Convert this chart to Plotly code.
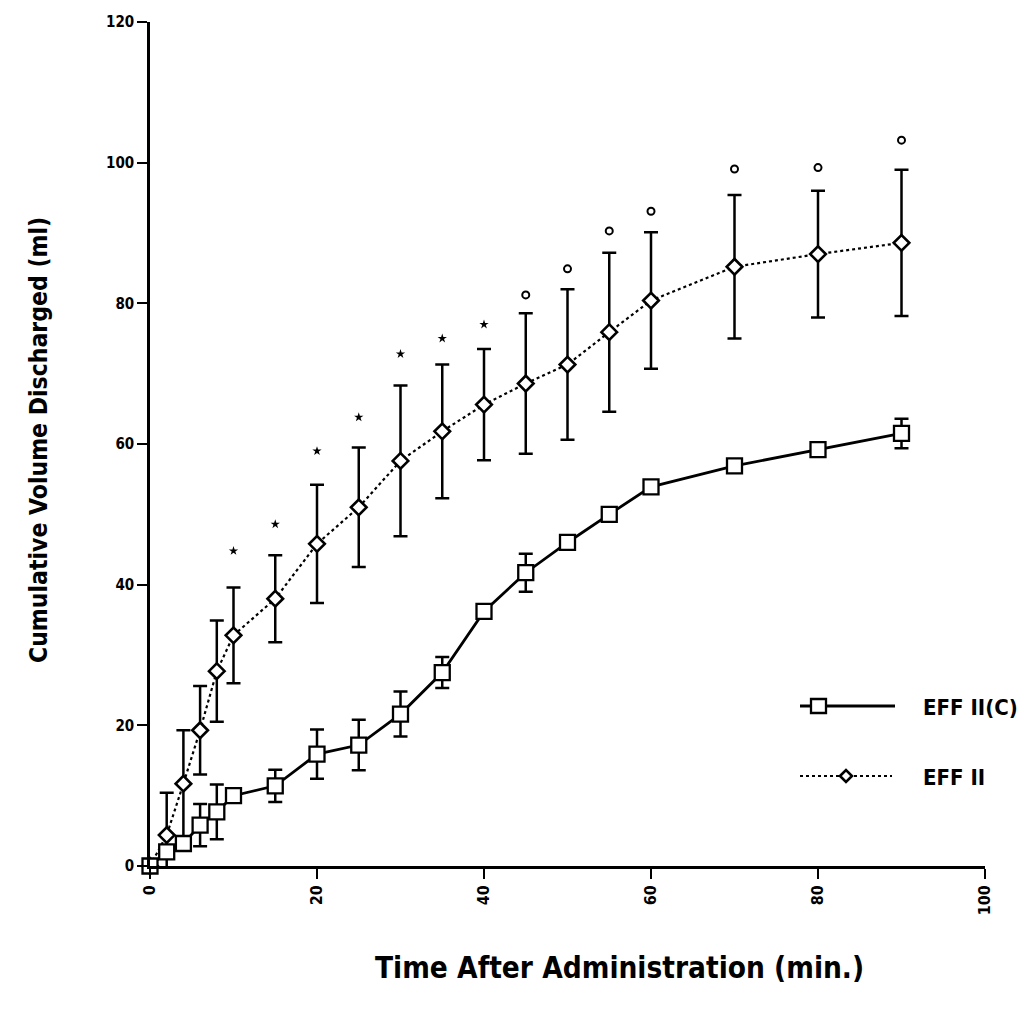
import plotly.graph_objects as go

# ---- data ----
times = [0, 2, 4, 6, 8, 10, 15, 20, 25, 30, 35, 40, 45, 50, 55, 60, 70, 80, 90]

effc_mean = [0, 2.0, 3.2, 5.8, 7.7, 10.0, 11.4, 15.9, 17.2, 21.6, 27.5, 36.2,
             41.7, 46.0, 50.0, 53.9, 56.9, 59.2, 61.5]
effc_err = [0, 0, 0, 3.0, 3.9, 0, 2.3, 3.5, 3.6, 3.2, 2.2, 0,
            2.7, 0, 0, 0, 0, 0, 2.1]

eff_mean = [0, 4.4, 11.7, 19.3, 27.7, 32.8, 38.0, 45.8, 51.0, 57.6, 61.8, 65.6,
            68.6, 71.3, 75.9, 80.4, 85.2, 87.0, 88.6]
eff_err = [0, 6.0, 7.6, 6.3, 7.2, 6.8, 6.2, 8.4, 8.5, 10.7, 9.5, 7.9,
           10.0, 10.7, 11.3, 9.7, 10.2, 9.0, 10.4]

# significance marks above EFF II error bars
star_t = [10, 15, 20, 25, 30, 35, 40]
star_y = [44.8, 48.6, 59.0, 63.8, 72.8, 75.0, 77.0]
circ_t = [45, 50, 55, 60, 70, 80, 90]
circ_y = [81.2, 84.9, 90.3, 93.1, 99.1, 99.3, 103.2]

x_ticks = [0, 20, 40, 60, 80, 100]
y_ticks = [0, 20, 40, 60, 80, 100, 120]

series_names = ["EFF II(C)", "EFF II"]

FONT = "Liberation Sans Narrow, DejaVu Sans Condensed, DejaVu Sans, sans-serif"

fig = go.Figure()

fig.add_trace(go.Scatter(
    x=times, y=eff_mean, mode="lines+markers", name=series_names[1],
    line=dict(color="black", width=2.2, dash="dot"),
    marker=dict(symbol="diamond", size=12, color="white",
                line=dict(color="black", width=2.6)),
    error_y=dict(type="data", array=eff_err, visible=True,
                 color="black", thickness=2.5, width=7),
    cliponaxis=False, showlegend=False,
))

fig.add_trace(go.Scatter(
    x=times, y=effc_mean, mode="lines+markers", name=series_names[0],
    line=dict(color="black", width=2.8),
    marker=dict(symbol="square", size=15, color="white",
                line=dict(color="black", width=2.3)),
    error_y=dict(type="data", array=effc_err, visible=True,
                 color="black", thickness=2.5, width=7),
    cliponaxis=False, showlegend=False,
))

fig.add_trace(go.Scatter(
    x=star_t, y=star_y, mode="markers",
    marker=dict(symbol="star", size=7, color="black"),
    cliponaxis=False, showlegend=False,
))
fig.add_trace(go.Scatter(
    x=circ_t, y=circ_y, mode="markers",
    marker=dict(symbol="circle-open", size=7, color="black",
                line=dict(color="black", width=2)),
    cliponaxis=False, showlegend=False,
))

# ---- layout geometry (page has an 8px body margin) ----
OFF = 8
FW, FH = 1035 - OFF, 1015 - OFF
L, R, T, B = 150 - OFF, 50, 22 - OFF, 149
W, H = FW - L - R, FH - T - B

def px(xp):
    return (xp - OFF - L) / W

def py(yp):
    return 1 - (yp - OFF - T) / H

shapes = []
# EFF II(C) legend line + square
shapes.append(dict(type="line", xref="paper", yref="paper",
                   x0=px(800), x1=px(895), y0=py(706), y1=py(706),
                   line=dict(color="black", width=2.8)))
shapes.append(dict(type="rect", xref="paper", yref="paper",
                   x0=px(811), x1=px(826), y0=py(713), y1=py(699),
                   fillcolor="white", line=dict(color="black", width=2.3)))
# EFF II legend line + diamond
shapes.append(dict(type="line", xref="paper", yref="paper",
                   x0=px(800), x1=px(892), y0=py(776), y1=py(776),
                   line=dict(color="black", width=2.2, dash="dot")))
dx, dy = 6, 6
cx, cy = 846, 776
path = "M {} {} L {} {} L {} {} L {} {} Z".format(
    px(cx - dx), py(cy), px(cx), py(cy - dy), px(cx + dx), py(cy), px(cx), py(cy + dy))
shapes.append(dict(type="path", xref="paper", yref="paper", path=path,
                   fillcolor="white", line=dict(color="black", width=2.6)))

annotations = [
    dict(text="<b>" + series_names[0] + "</b>", xref="paper", yref="paper",
         x=px(921), y=py(707), xanchor="left", yanchor="middle", showarrow=False,
         font=dict(family=FONT, size=22, color="black")),
    dict(text="<b>" + series_names[1] + "</b>", xref="paper", yref="paper",
         x=px(921), y=py(777), xanchor="left", yanchor="middle", showarrow=False,
         font=dict(family=FONT, size=22, color="black")),
    dict(text="<b>Cumulative Volume Discharged (ml)</b>", xref="paper", yref="paper",
         x=px(38), y=py(440), xanchor="center", yanchor="middle", showarrow=False,
         textangle=-90, font=dict(family=FONT, size=24.5, color="black")),
    dict(text="<b>Time After Administration (min.)</b>", xref="paper", yref="paper",
         x=px(619), y=py(968), xanchor="center", yanchor="middle", showarrow=False,
         font=dict(family=FONT, size=29.5, color="black")),
]

fig.update_layout(
    width=FW, height=FH,
    margin=dict(l=L, r=R, t=T, b=B, pad=0, autoexpand=False),
    paper_bgcolor="white", plot_bgcolor="white",
    showlegend=False,
    shapes=shapes, annotations=annotations,
    font=dict(family=FONT, color="black"),
)

fig.update_xaxes(
    range=[0, 100], tickvals=x_ticks, ticktext=[str(v) for v in x_ticks],
    showgrid=False, zeroline=False, showline=True, linecolor="black", linewidth=2.5,
    ticks="outside", ticklen=10, tickwidth=2, tickcolor="black",
    tickangle=-90, tickfont=dict(family=FONT, size=16, color="black", weight="bold"),
)
fig.update_yaxes(
    range=[0, 120], tickvals=y_ticks, ticktext=[str(v) for v in y_ticks],
    showgrid=False, zeroline=False, showline=True, linecolor="black", linewidth=2.5,
    ticks="outside", ticklen=10, tickwidth=2, tickcolor="black",
    tickfont=dict(family=FONT, size=15, color="black", weight="bold"),
)

fig.write_html("out.html")
